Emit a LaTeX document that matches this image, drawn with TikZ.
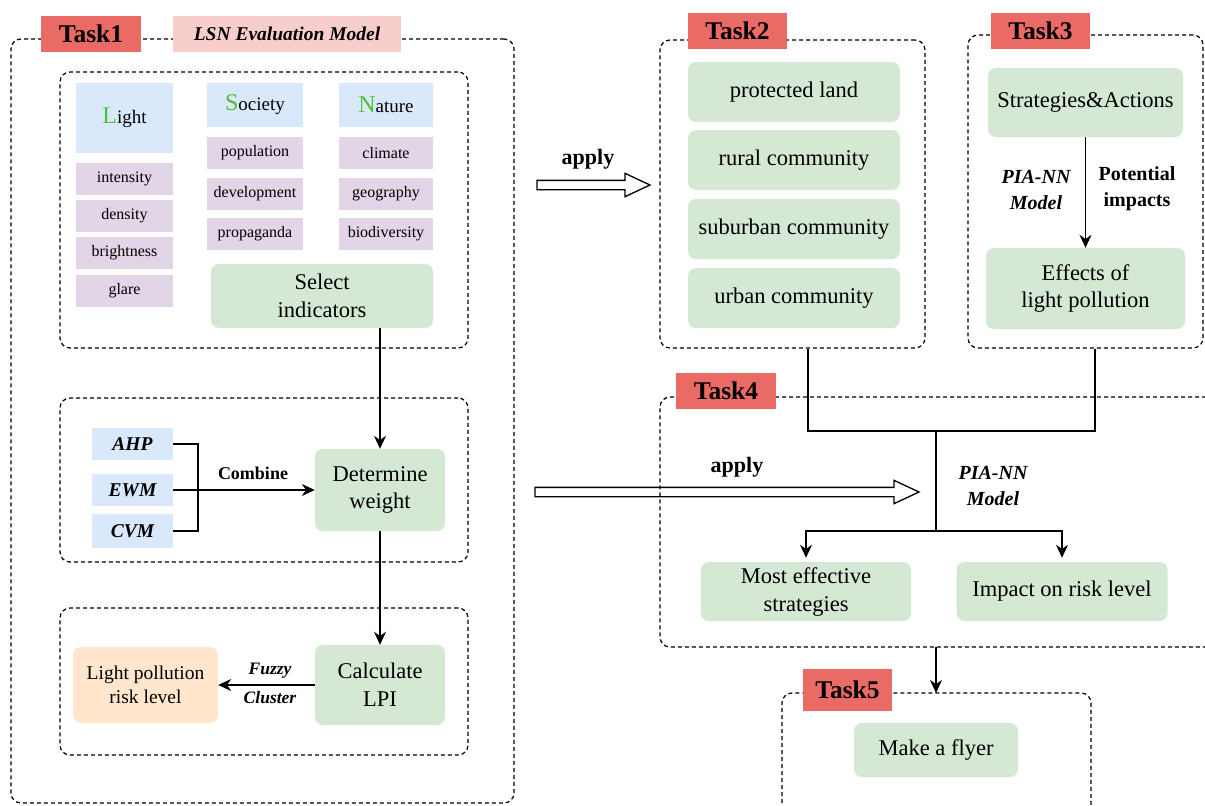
\documentclass[tikz,border=0pt]{standalone}
\usepackage{fontspec}
\setmainfont{Liberation Serif}
\usetikzlibrary{arrows.meta,shapes.arrows}
\definecolor{tred}{HTML}{EA6B66}
\definecolor{tpink}{HTML}{F8CECC}
\definecolor{tblue}{HTML}{DAE8FC}
\definecolor{tpurple}{HTML}{E1D5E7}
\definecolor{tgreen}{HTML}{D5E8D4}
\definecolor{torange}{HTML}{FFE6CC}
\definecolor{lgreen}{HTML}{4CC236}
\newcommand\fsz[2]{\fontsize{#1}{#2}\selectfont}
\begin{document}
\begin{tikzpicture}[x=1pt,y=-1pt,
  dbox/.style={draw, dash pattern=on 4pt off 3pt, line width=1.2pt, rounded corners=10pt, inner sep=0pt},
  tlabel/.style={fill=tred, inner sep=0pt, font=\fsz{25.5}{28}\bfseries, minimum width=100pt, minimum height=36pt},
  sbox/.style={fill=#1, inner sep=0pt, font=\fsz{16}{19}},
  hbox/.style={fill=tblue, inner sep=0pt, font=\fsz{19}{22}},
  mbox/.style={fill=tblue, inner sep=0pt, font=\fsz{19.5}{22}\bfseries\itshape, minimum width=81pt},
  gbox/.style={fill=tgreen, rounded corners=8pt, inner sep=0pt, align=center, font=\fsz{22.5}{28}},
  line/.style={line width=1.5pt},
  conn/.style={line width=1.5pt, -{Stealth[length=13pt,width=12pt]}},
  hollow/.style={single arrow, draw, fill=white, line width=1.3pt, inner sep=0pt, inner ysep=4pt, minimum width=0pt, single arrow head extend=7pt, single arrow tip angle=50},
  blab/.style={font=\fsz{20}{26}\bfseries, align=center},
  bilab/.style={font=\fsz{20}{26}\bfseries\itshape, align=center}
]
\useasboundingbox (0,0) rectangle (1205,806);
\fill[white] (0,0) rectangle (1205,806);

% ---------- Task 1 ----------
\node[dbox, minimum width=503pt, minimum height=764pt] (T1box) at (262.5,421) {};
\node[dbox, minimum width=408pt, minimum height=276pt] (in1) at (264,210) {};
\node[dbox, minimum width=408pt, minimum height=164pt] (in2) at (264,480) {};
\node[dbox, minimum width=408pt, minimum height=147pt] (in3) at (264,681.5) {};

\node[tlabel] (T1) at (91,34) {Task1};
\node[fill=tpink, inner sep=0pt, minimum width=228pt, minimum height=36pt, font=\fsz{19.5}{22}\bfseries\itshape] (LSN) at (287,34) {LSN Evaluation Model};

\node[hbox, minimum width=97pt, minimum height=70pt] (light) at (124.5,118) {{\fsz{24}{24}\color{lgreen}L}ight};
\node[hbox, minimum width=96pt, minimum height=44pt] (society) at (255,105) {{\fsz{24}{24}\color{lgreen}S}ociety};
\node[hbox, minimum width=94pt, minimum height=44pt] (nature) at (386,105) {{\fsz{24}{24}\color{lgreen}N}ature};

\node[sbox=tpurple, minimum width=97pt, minimum height=32pt] (intensity) at (124.5,179) {intensity};
\node[sbox=tpurple, minimum width=97pt, minimum height=32pt] (density) at (124.5,216) {density};
\node[sbox=tpurple, minimum width=97pt, minimum height=32pt] (brightness) at (124.5,253) {brightness};
\node[sbox=tpurple, minimum width=97pt, minimum height=32pt] (glare) at (124.5,291) {glare};

\node[sbox=tpurple, minimum width=96pt, minimum height=32pt] (population) at (255,153) {population};
\node[sbox=tpurple, minimum width=96pt, minimum height=32pt] (development) at (255,193.5) {development};
\node[sbox=tpurple, minimum width=96pt, minimum height=32pt] (propaganda) at (255,233.5) {propaganda};

\node[sbox=tpurple, minimum width=94pt, minimum height=32pt] (climate) at (386,153) {climate};
\node[sbox=tpurple, minimum width=94pt, minimum height=32pt] (geography) at (386,193.5) {geography};
\node[sbox=tpurple, minimum width=94pt, minimum height=32pt] (biodiversity) at (386,233.5) {biodiversity};

\node[gbox, minimum width=222pt, minimum height=64pt] (select) at (322,296) {Select\\indicators};

\node[mbox, minimum height=32pt] (AHP) at (132.5,444) {AHP};
\node[mbox, minimum height=32pt] (EWM) at (132.5,490) {EWM};
\node[mbox, minimum height=34pt] (CVM) at (132.5,531) {CVM};
\node[gbox, minimum width=130pt, minimum height=82pt, font=\fsz{22.5}{27}] (determine) at (380,490) {Determine\\weight};

\node[gbox, minimum width=130pt, minimum height=80pt] (calc) at (380,685) {Calculate\\LPI};
\node[gbox, fill=torange, minimum width=145pt, minimum height=76pt, font=\fsz{19.5}{24}] (risk) at (145.5,685) {Light pollution\\risk level};

\draw[conn] (determine.north |- select.south) -- (determine.north);
\draw[line] (AHP.east) -- ++(25,0) |- (CVM.east);
\draw[conn] (EWM.east) -- (determine.west);
\node[font=\fsz{18}{22}\bfseries] (combine) at (253,473) {Combine};
\draw[conn] (determine.south) -- (calc.north);
\draw[conn] (calc.west) -- (risk.east);
\node[font=\fsz{17.5}{20}\bfseries\itshape] (fuzzy) at (270,671) {Fuzzy};
\node[font=\fsz{17.5}{20}\bfseries\itshape] (cluster) at (270,698) {Cluster};

% ---------- apply arrows ----------
\node[hollow, minimum height=113pt] (ap1) at (588.5,185) {};
\node[font=\fsz{22}{24}\bfseries] (apply1) at (588,159) {apply};
\node[hollow, minimum height=384pt] (ap2) at (722,492) {};
\node[font=\fsz{22}{24}\bfseries] (apply2) at (737,467) {apply};

% ---------- Task 2 ----------
\node[dbox, minimum width=265pt, minimum height=308pt] (T2box) at (792.5,194) {};
\node[tlabel, minimum width=99pt] (T2) at (737.5,31) {Task2};
\node[gbox, minimum width=212pt, minimum height=60pt] (protected) at (794,92) {protected land};
\node[gbox, minimum width=212pt, minimum height=60pt] (rural) at (794,160) {rural community};
\node[gbox, minimum width=212pt, minimum height=60pt] (suburban) at (794,229) {suburban community};
\node[gbox, minimum width=212pt, minimum height=60pt] (urban) at (794,298) {urban community};

% ---------- Task 3 ----------
\node[dbox, minimum width=235pt, minimum height=313pt] (T3box) at (1085.5,191.5) {};
\node[tlabel, minimum width=99pt] (T3) at (1040.5,31) {Task3};
\node[gbox, minimum width=195pt, minimum height=69pt] (strat) at (1085.5,102.5) {Strategies\&Actions};
\node[gbox, minimum width=199pt, minimum height=81pt, font=\fsz{22.5}{27}] (effects) at (1085.5,288.5) {Effects of\\light pollution};
\draw[conn] (strat.south) -- (effects.north);
\node[bilab] (pia1) at (1036,190) {PIA-NN\\Model};
\node[blab] (potential) at (1137,189) {Potential\\impacts};

% ---------- Task 4 ----------
\draw[dash pattern=on 4pt off 3pt, line width=1.2pt, rounded corners=10pt]
  (1206,397) -- (660,397) -- (660,647) -- (1206,647);
\coordinate (ja) at (808,431);
\coordinate (jb) at (1095,431);
\coordinate (jc) at (936,431);
\coordinate (jd) at (936,531);
\coordinate (t4b) at (936,647);
\draw[line] (T2box.south -| ja) -- (ja) -- (jb) -- (T3box.south -| jb);
\draw[line] (jc) -- (jd);
\node[tlabel] (T4) at (726,391) {Task4};
\node[bilab] (pia2) at (993,486) {PIA-NN\\Model};
\node[gbox, minimum width=210pt, minimum height=59pt, font=\fsz{22.5}{28}] (most) at (806,591.5) {Most effective\\strategies};
\node[gbox, minimum width=211pt, minimum height=59pt] (impact) at (1062,591.5) {Impact on risk level};
\draw[conn, shorten >=4pt] (jd) -| (most.north);
\draw[conn, shorten >=4pt] (jd) -| (impact.north);

% ---------- Task 5 ----------
\draw[dash pattern=on 4pt off 3pt, line width=1.2pt, rounded corners=10pt]
  (782,810) -- (782,693) -- (1091,693) -- (1091,810);
\coordinate (t5t) at (936,693);
\draw[conn] (t4b) -- (t5t);
\node[tlabel, minimum width=89pt, minimum height=42pt] (T5) at (847.5,690) {Task5};
\node[gbox, minimum width=164pt, minimum height=54pt] (flyer) at (936,750) {Make a flyer};
\end{tikzpicture}
\end{document}
